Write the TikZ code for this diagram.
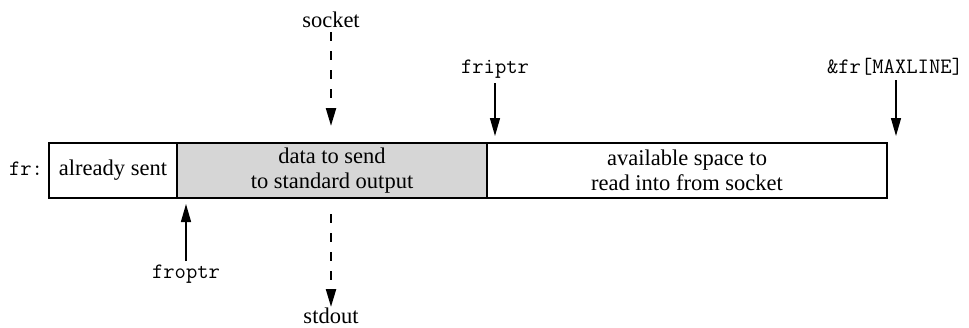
\documentclass[tikz,border=0pt]{standalone}
\usepackage{fontspec}
\setmainfont{Liberation Serif}
\usetikzlibrary{arrows.meta}
\begin{document}
\begin{tikzpicture}[x=1pt,y=-1pt,
  cell/.style={draw=black, line width=1.6pt, minimum height=55pt, inner sep=0pt, align=center,
     font=\fontsize{22.5}{25}\selectfont},
  lbl/.style={inner sep=0pt, anchor=base, font=\fontsize{22.5}{25}\selectfont},
  code/.style={inner sep=0pt, anchor=base, font=\fontsize{22}{25}\selectfont\ttfamily},
  arr/.style={line width=1.4pt, -{Triangle[length=18pt,width=10pt]}},
  darr/.style={line width=2.2pt, dash pattern=on 9pt off 10pt, -{Triangle[length=18pt,width=10pt]}}]
\useasboundingbox (0,0) rectangle (969,327);
% cells
\node[cell, minimum width=128pt] (sent) at (113,170.5) {already sent};
\node[cell, minimum width=310pt, fill=black!16] (data) at (332,170.5) {data to send\\to standard output};
\node[cell, minimum width=400pt] (avail) at (687,170.5) {available space to\\read into from socket};
% labels
\node[code] (fr) at (26,175) {fr:};
\node[lbl] (socket) at (331,27) {socket};
\node[lbl] (stdout) at (331,323) {stdout};
\node[code] (friptr) at (495,73) {friptr};
\node[code] (maxline) at (895,73) {\&fr[MAXLINE]};
\node[code] (froptr) at (186,278) {froptr};
% arrow ends
\coordinate (socketTip) at (331,126);
\coordinate (stdoutTail) at (331,214);
\coordinate (stdoutTip) at (331,307);
\coordinate (friptrTip) at (495,136);
\coordinate (maxTip) at (896,136);
\coordinate (froptrTip) at (186,204);
% connectors
\draw[darr, shorten <=5pt] (socket.south) -- (socketTip);
\draw[darr] (stdoutTail) -- (stdoutTip);
\draw[arr, shorten <=5pt] (friptr.south) -- (friptrTip);
\draw[arr, shorten <=5pt] (maxline.south -| maxTip) -- (maxTip);
\draw[arr, shorten <=3pt] (froptr.north) -- (froptrTip);
\end{tikzpicture}
\end{document}
